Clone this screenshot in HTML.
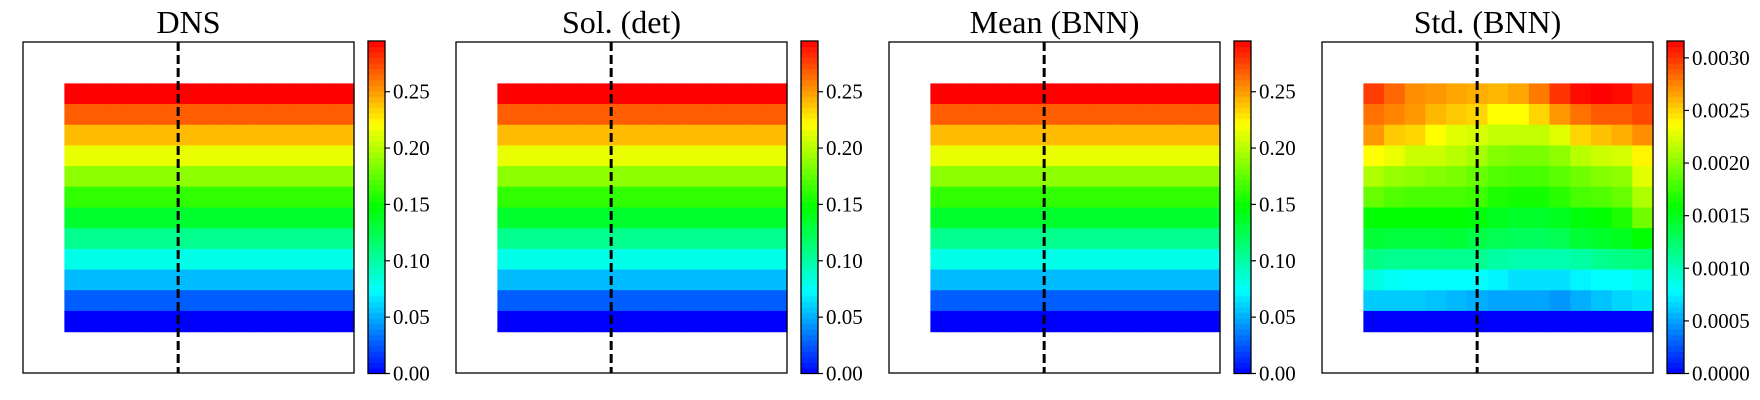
<!DOCTYPE html>
<html><head><meta charset="utf-8">
<style>
html,body{margin:0;padding:0;background:#fff;}
svg{display:block;}
text{font-family:"Liberation Serif",serif;fill:#000;}
</style></head>
<body>
<svg id="fig" width="1760" height="400" xmlns="http://www.w3.org/2000/svg"></svg>
<script>
// ---- data ----
const panelTitles = ["DNS", "Sol. (det)", "Mean (BNN)", "Std. (BNN)"];
// field rows (top to bottom), uniform across columns
const dnsRows  = [0.295,0.268,0.241,0.215,0.188,0.161,0.134,0.107,0.080,0.054,0.027,0.000];
const detRows  = [0.295,0.268,0.241,0.215,0.188,0.161,0.134,0.107,0.080,0.054,0.027,0.000];
const meanRows = [0.295,0.268,0.241,0.215,0.188,0.161,0.134,0.107,0.080,0.054,0.027,0.000];
const fieldMax = 0.295;
const fieldTicks = ["0.00","0.05","0.10","0.15","0.20","0.25"];
const fieldTickVals = [0,0.05,0.10,0.15,0.20,0.25];
// std values in units of 1e-5, rows top to bottom, 14 columns
const stdRow0  = [297,284,272,269,265,262,259,265,278,300,313,316,313,300];
const stdRow1  = [281,275,269,259,253,250,237,237,250,269,281,288,288,294];
const stdRow2  = [269,253,250,237,228,224,218,218,218,228,250,256,262,272];
const stdRow3  = [237,231,221,221,215,209,199,196,196,202,215,221,224,240];
const stdRow4  = [212,205,202,199,196,190,183,180,180,186,193,199,202,228];
const stdRow5  = [190,183,180,180,180,177,167,164,164,171,180,183,190,212];
const stdRow6  = [158,158,158,158,158,155,149,145,145,149,155,158,167,193];
const stdRow7  = [142,139,139,139,142,136,133,130,130,133,142,145,149,158];
const stdRow8  = [117,114,114,114,114,114,107,104,104,104,107,114,117,120];
const stdRow9  = [88,82,79,79,79,79,76,70,70,70,76,79,79,85];
const stdRow10 = [63,63,63,60,57,54,51,51,51,47,54,60,66,70];
const stdRow11 = [0,0,0,0,0,0,0,0,0,0,0,0,0,0];
const stdMax = 316;
const stdTicks = ["0.0000","0.0005","0.0010","0.0015","0.0020","0.0025","0.0030"];
const stdTickVals = [0,50,100,150,200,250,300];
const nCols = 14, domain = 16, colStart = 2, rowStart = 2, cutX = 7.5;

// ---- drawing ----
const NS = "http://www.w3.org/2000/svg";
const svg = document.getElementById('fig');
function mk(tag, attrs, parent){
  const e = document.createElementNS(NS, tag);
  for (const k in attrs) e.setAttribute(k, attrs[k]);
  (parent||svg).appendChild(e); return e;
}
function cmap(t){
  t = Math.max(0, Math.min(1, t));
  const stops = [[0,0,255],[0,255,255],[0,255,0],[255,255,0],[255,0,0]];
  const s = t*4, i = Math.min(3, Math.floor(s)), f = s - i;
  const a = stops[i], b = stops[i+1];
  return `rgb(${Math.round(a[0]+(b[0]-a[0])*f)},${Math.round(a[1]+(b[1]-a[1])*f)},${Math.round(a[2]+(b[2]-a[2])*f)})`;
}
const stdGrid = [stdRow0,stdRow1,stdRow2,stdRow3,stdRow4,stdRow5,stdRow6,stdRow7,stdRow8,stdRow9,stdRow10,stdRow11];
const fieldRowsList = [dnsRows, detRows, meanRows];

const AX_TOP = 42, AX_SIZE = 331, CB_TOP = 41, CB_BOT = 373.5, CB_W = 17;
for (let p = 0; p < 4; p++){
  const left = 23 + p*433;
  const g = mk('g', {});
  
  
  const cell = AX_SIZE/domain;
  const xS = c => left + c*cell;
  const yS = r => AX_TOP + r*cell;
  const title = mk('text', {x: left + AX_SIZE/2, y: 33, 'text-anchor':'middle', 'font-size': 32}, g);
  title.textContent = panelTitles[p];
  
  
  const isStd = p === 3;
  const vmax = isStd ? stdMax : fieldMax;
  const hm = mk('g', {}, g);
  
  
  for (let r = 0; r < 12; r++){
    for (let c = 0; c < nCols; c++){
      const v = isStd ? stdGrid[r][c] : fieldRowsList[p][r];
      const x0 = xS(colStart + c), y0 = yS(rowStart + r);
      const rc = mk('rect', {x: x0.toFixed(2), y: y0.toFixed(2), width: (cell+0.6).toFixed(2), height: (cell+0.6).toFixed(2), fill: cmap(v/vmax)}, hm);
      
      
    }
  }
  const frame = mk('rect', {x: left, y: AX_TOP, width: AX_SIZE, height: AX_SIZE, fill: 'none', stroke: '#000', 'stroke-width': 1.3}, g);
  
  
  const cx = xS(cutX);
  const ln = mk('line', {x1: cx, y1: AX_TOP, x2: cx, y2: AX_TOP+AX_SIZE, stroke: '#000', 'stroke-width': 3, 'stroke-dasharray': '9,4'}, g);
  
  
  // colorbar
  const cbx = left + 345;
  const cb = mk('g', {}, g);
  
  
  const n = 60, h = (CB_BOT - CB_TOP)/n;
  for (let i = 0; i < n; i++){
    mk('rect', {x: cbx, y: (CB_BOT - (i+1)*h).toFixed(2), width: CB_W, height: (h+0.5).toFixed(2), fill: cmap((i+0.5)/n)}, cb);
  }
  mk('rect', {x: cbx, y: CB_TOP, width: CB_W, height: CB_BOT-CB_TOP, fill: 'none', stroke: '#000', 'stroke-width': 1.3}, cb);
  const tv = isStd ? stdTickVals : fieldTickVals, tl = isStd ? stdTicks : fieldTicks;
  for (let i = 0; i < tv.length; i++){
    const y = CB_BOT - tv[i]/vmax*(CB_BOT - CB_TOP);
    mk('line', {x1: cbx+CB_W, y1: y, x2: cbx+CB_W+5, y2: y, stroke: '#000', 'stroke-width': 1.2}, cb);
    const t = mk('text', {x: cbx+CB_W+8, y: y+7, 'font-size': 21}, cb);
    t.textContent = tl[i];
    
    
  }
}
</script>
</body></html>
